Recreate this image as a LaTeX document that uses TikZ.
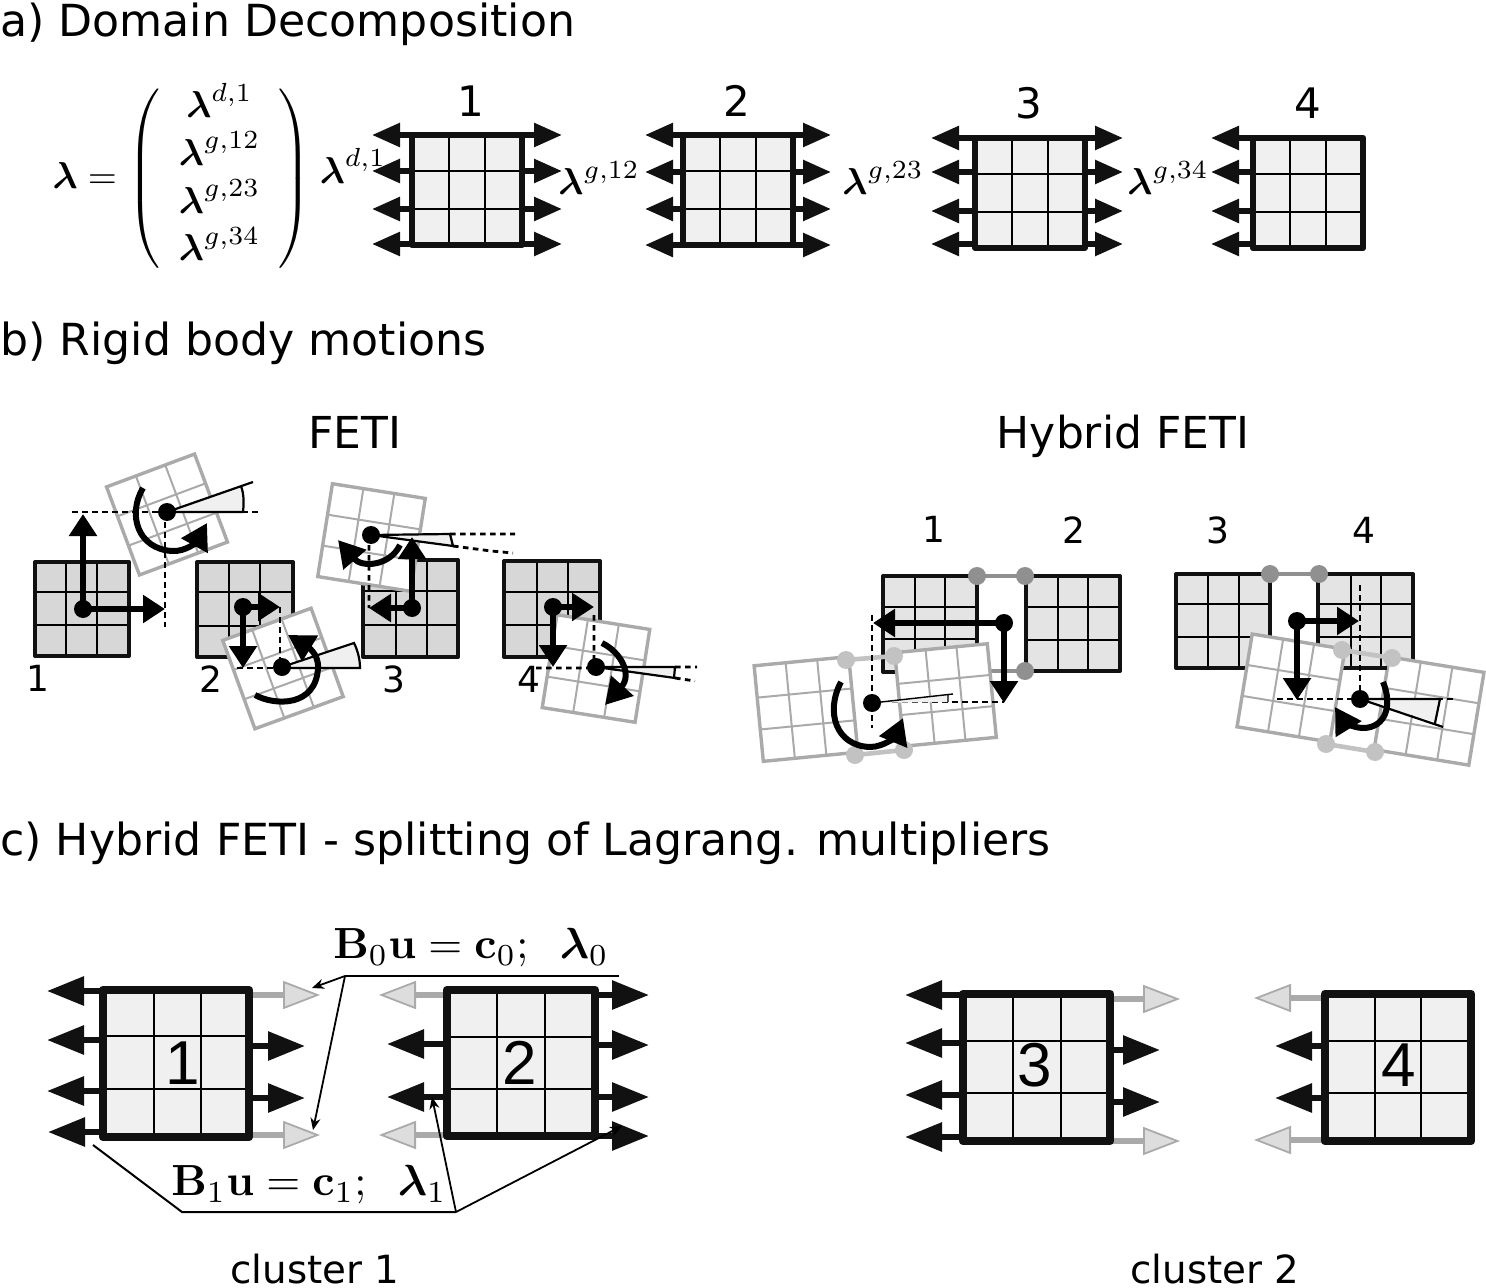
\documentclass[tikz,border=0pt]{standalone}
\usepackage{amsmath,amssymb}
\usepackage[no-math]{fontspec}
\setmainfont{DejaVu Sans}
\newfontfamily\narrowfont{Liberation Sans}
\usetikzlibrary{arrows.meta}
\definecolor{ink}{HTML}{111111}
\definecolor{midgray}{HTML}{AAAAAA}
\definecolor{palehead}{HTML}{DDDDDD}
\definecolor{lightcell}{HTML}{F0F0F0}
\definecolor{graycell}{HTML}{D7D7D7}
\definecolor{hybridcell}{HTML}{E4E4E4}
\definecolor{linkdark}{HTML}{909090}
\definecolor{linklight}{HTML}{C2C2C2}
\tikzset{
  x=0.5pt,y=-0.5pt,
  title/.style={anchor=base west,inner sep=0pt,font=\fontsize{22.1}{26}\selectfont},
  sublabel/.style={anchor=base,inner sep=0pt,font=\fontsize{22}{26}\selectfont},
  numA/.style={inner sep=0pt,font=\fontsize{21}{25}\selectfont},
  numB/.style={inner sep=0pt,font=\fontsize{18}{21}\selectfont},
  numC/.style={inner sep=0pt,font=\narrowfont\fontsize{31}{36}\selectfont},
  mathlab/.style={inner sep=0pt,scale=1.87},
  mathbig/.style={inner sep=0pt,scale=2.18},
  blk/.style={draw=ink,line width=2.8pt,-{Triangle[length=14pt,width=11.5pt,fill=ink]}},
  blkc/.style={draw=ink,line width=3pt,-{Triangle[length=18.5pt,width=14pt,fill=ink]}},
  gry/.style={draw=midgray,line width=3pt,-{Triangle[length=18.5pt,width=14pt,line width=.9pt,fill=palehead]}},
  blkB/.style={draw=black,line width=3pt,-{Triangle[length=11pt,width=13.5pt,fill=black]}},
  turn/.style={draw=black,line width=3pt,line cap=butt,-{Triangle[length=13pt,width=14.5pt,fill=black]}},
  dash line/.style={draw=black,line width=1.4pt,dash pattern=on 2.8pt off 2.2pt},
  dotnode/.style={circle,fill=black,inner sep=0pt,minimum size=9pt},
  thin call/.style={draw=black,line width=1pt},
  call/.style={draw=black,line width=.9pt,-{Stealth[length=6pt,width=5pt]}},
  wedgeline/.style={draw=black,line width=1.1pt},
  wedgefill/.style={fill=lightcell},
}
\newcommand\gridbox[9]{%
  \draw[fill=#9,draw=none] (#1,#2) rectangle (#3,#4);
  \foreach \gx in {#5}{\draw[black,line width=1.1pt] (\gx,#2) -- (\gx,#4);}
  \foreach \gy in {#6}{\draw[black,line width=1.1pt] (#1,\gy) -- (#3,\gy);}
  \draw[ink,line width=#7,line join=round] (#1,#2) rectangle (#3,#4);
}
\newcommand\rotbox[5]{%
  \begin{scope}[shift={(#1,#2)},rotate=#5]
    \draw[draw=midgray,fill=white,line width=1.7pt] ({-#3/2},{-#4/2}) rectangle ({#3/2},{#4/2});
    \draw[midgray,line width=1pt] ({-#3/6},{-#4/2}) -- ({-#3/6},{#4/2}) ({#3/6},{-#4/2}) -- ({#3/6},{#4/2})
      ({-#3/2},{-#4/6}) -- ({#3/2},{-#4/6}) ({-#3/2},{#4/6}) -- ({#3/2},{#4/6});
  \end{scope}
}
\newcommand\linkpair[5]{%
  \draw[#5,line width=2.3pt] (#1) -- (#3);
  \fill[#5] (#1) circle (9) (#3) circle (9);
}
\begin{document}
\begin{tikzpicture}
\useasboundingbox (0,0) rectangle (1486,1288);
% titles
\node[title] (ta) at (0,37) {a) Domain Decomposition};
\node[title] (tb) at (0,356) {b) Rigid body motions};
\node[title] (tc) at (0,855) {c) Hybrid FETI - splitting of Lagrang. multipliers};
% ---- a)
\node[mathlab,anchor=center] (lam) at (182,179) {$\boldsymbol{\lambda}=\left(\renewcommand{\arraystretch}{1.05}\begin{array}{c}\boldsymbol{\lambda}^{d,1}\\ \boldsymbol{\lambda}^{g,12}\\ \boldsymbol{\lambda}^{g,23}\\ \boldsymbol{\lambda}^{g,34}\end{array}\right)$};
\node[mathlab] (l1) at (353,166) {$\boldsymbol{\lambda}^{d,1}$};
\node[mathlab] (l2) at (599,178) {$\boldsymbol{\lambda}^{g,12}$};
\node[mathlab] (l3) at (883,178) {$\boldsymbol{\lambda}^{g,23}$};
\node[mathlab] (l4) at (1168,178) {$\boldsymbol{\lambda}^{g,34}$};
\node[numA] (n1) at (471,101) {1};
\node[numA] (n2) at (737,101) {2};
\node[numA] (n3) at (1029,103) {3};
\node[numA] (n4) at (1308,103) {4};
\foreach \y in {135,171,209,244}{\draw[blk] (412,\y) -- (372,\y); \draw[blk] (522,\y) -- (562,\y);}
\foreach \y in {135,172,209,245}{\draw[blk] (683,\y) -- (645,\y); \draw[blk] (793,\y) -- (831,\y);}
\foreach \y in {138,172,211,244}{\draw[blk] (975,\y) -- (931,\y); \draw[blk] (1085,\y) -- (1123,\y);\draw[blk] (1253,\y) -- (1211,\y);}
\gridbox{412}{135}{522}{245}{449,485}{171,209}{3.2pt}{}{lightcell}
\gridbox{683}{135}{793}{245}{720,756}{171,209}{3.2pt}{}{lightcell}
\gridbox{975}{138}{1085}{248}{1012,1048}{174,212}{2.7pt}{}{lightcell}
\gridbox{1253}{138}{1363}{248}{1290,1326}{174,212}{3.2pt}{}{lightcell}
% ---- b) headings
\node[sublabel] (feti) at (355,449) {FETI};
\node[sublabel] (hfeti) at (1123,449) {Hybrid FETI};
% b) left: fixed boxes
\gridbox{35}{562}{129}{656}{66,97}{592,625}{2pt}{}{graycell}
\gridbox{197}{562}{293}{657}{229,260}{592,626}{2pt}{}{graycell}
\gridbox{363}{560}{458}{657}{396,427}{591,625}{2pt}{}{graycell}
\gridbox{504}{561}{600}{657}{537,568}{592,625}{2pt}{}{graycell}
\node[numB] at (38,678) {1};
\node[numB] at (211,679) {2};
\node[numB] at (394,679) {3};
\node[numB] at (529,679) {4};
% subdomain 1
\rotbox{167}{514.5}{94}{94}{20.5}
\fill[wedgefill] (167,512) -- (241,486) .. controls (244,494) and (244,503) .. (243,512) -- cycle;
\draw[wedgeline] (167,512) -- (253,482) (167,512) -- (243,512) (241,486) .. controls (244,494) and (244,503) .. (243,512);
\draw[dash line] (72,512) -- (258,512) (165,512) -- (165,627);
\node[dotnode] (d1) at (83,609) {};
\coordinate (d1u) at (83,514); \coordinate (d1r) at (165,609);
\draw[blkB] (d1.center) -- (d1u);
\draw[blkB] (d1.center) -- (d1r);
\node[dotnode] (r1) at (167,512) {};
\draw[turn] (143,488) .. controls (127,515) and (138,549) .. (172,551) .. controls (186,552) and (197,541) .. (207,523);
% subdomain 2
\rotbox{283}{668.5}{94}{94}{20}
\fill[wedgefill] (282,667) -- (354,643) .. controls (358,651) and (360,660) .. (360,668) -- cycle;
\draw[wedgeline] (282,667) -- (354,643) -- (354,643) .. controls (358,651) and (360,660) .. (360,668) -- (282,668);
\draw[dash line] (237,668) -- (282,668) (280,607) -- (280,667);
\node[dotnode] (d2) at (243,607) {};
\coordinate (d2r) at (280,607); \coordinate (d2d) at (243,668);
\draw[blkB] (d2.center) -- (d2r);
\draw[blkB] (d2.center) -- (d2d);
\node[dotnode] (r2) at (282,667) {};
\draw[turn] (255,695) .. controls (275,706) and (316,707) .. (318,668) .. controls (319,653) and (306,646) .. (288,635);
% subdomain 3
\rotbox{371.5}{537.5}{94}{94}{-9}
\fill[wedgefill] (371,535) -- (450,534) -- (453,546) -- cycle;
\draw[wedgeline] (371,535) -- (450,534) -- (453,546) -- (371,535);
\draw[dash line] (450,534) -- (515,534) (453,546) -- (491,551) -- (513,553) (369,545) -- (369,608);
\node[dotnode] (d3) at (412,608) {};
\coordinate (d3u) at (412,537); \coordinate (d3l) at (369,608);
\draw[blkB] (d3.center) -- (d3u);
\draw[blkB] (d3.center) -- (d3l);
\node[dotnode] (r3) at (371,535) {};
\draw[turn] (400,545) .. controls (390,566) and (362,568) .. (338,540);
% subdomain 4
\rotbox{596}{668.5}{94}{94}{-9}
\fill[wedgefill] (596,667) -- (675,667) -- (674,678) -- cycle;
\draw[wedgeline] (596,667) -- (675,667) -- (674,678) (596,667) -- (675,678);
\draw[dash line] (536,668) -- (596,668) (594,615) -- (594,667) (675,667) -- (697,667) (675,678) -- (695,681);
\node[dotnode] (d4) at (553,607) {};
\coordinate (d4r) at (594,607); \coordinate (d4d) at (553,667);
\draw[blkB] (d4.center) -- (d4r);
\draw[blkB] (d4.center) -- (d4d);
\node[dotnode] (r4) at (596,667) {};
\draw[turn] (602,643) .. controls (622,653) and (632,675) .. (605,705);
% ---- b) right
\node[numB] at (934,529) {1};
\node[numB] at (1074,530) {2};
\node[numB] at (1218,530) {3};
\node[numB] at (1364,530) {4};
\gridbox{883}{576}{977}{672}{915,945}{607,639}{2pt}{}{hybridcell}
\gridbox{1026}{576}{1120}{671}{1058,1088}{607,640}{2pt}{}{hybridcell}
\coordinate (ha) at (977,576); \coordinate (hb) at (1025,576);
\coordinate (hc) at (977,671); \coordinate (hd) at (1025,671);
\linkpair{ha}{}{hb}{}{linkdark}
\linkpair{hc}{}{hd}{}{linkdark}
\rotbox{806}{709}{95}{96}{5.5}
\rotbox{945.5}{695}{93}{94}{5.5}
\coordinate (he) at (846,660); \coordinate (hf) at (894,656);
\coordinate (hg) at (855,755); \coordinate (hh) at (904,750);
\linkpair{he}{}{hf}{}{linklight}
\linkpair{hg}{}{hh}{}{linklight}
\draw[dash line] (872,615) -- (872,728) (872,702) -- (1004,702);
\fill[wedgefill] (872,703) -- (948,695) -- (948,702) -- cycle;
\draw[black,line width=.7pt] (872,703) -- (953,694) (948,695) -- (948,702);
\node[dotnode] (h1) at (1004,623) {};
\coordinate (h1l) at (873,623); \coordinate (h1d) at (1004,703);
\draw[blkB] (h1.center) -- (h1l);
\draw[blkB] (h1.center) -- (h1d);
\node[dotnode] (h2) at (872,703) {};
\draw[turn] (841,682) .. controls (825,712) and (836,746) .. (870,747) .. controls (885,747) and (896,735) .. (903,718);
%
\gridbox{1176}{574}{1270}{668}{1208,1239}{604,637}{2pt}{}{hybridcell}
\gridbox{1318}{574}{1413}{668}{1351,1381}{604,637}{2pt}{}{hybridcell}
\coordinate (ja) at (1270,574); \coordinate (jb) at (1319,574);
\linkpair{ja}{}{jb}{}{linkdark}
\rotbox{1291}{688}{94}{94}{-9.3}
\rotbox{1429}{711}{96}{94}{-9.3}
\coordinate (jc) at (1342,650); \coordinate (jd) at (1392,658);
\coordinate (je) at (1326,744); \coordinate (jf) at (1375,752);
\linkpair{jc}{}{jd}{}{linklight}
\linkpair{je}{}{jf}{}{linklight}
\draw[ink,line width=2pt] (1345,668) -- (1387,668);
\fill[wedgefill] (1360,699) -- (1440,699) -- (1435,722) -- cycle;
\draw[wedgeline] (1360,699) -- (1440,699) -- (1435,723) (1360,699) -- (1443,727);
\draw[dash line] (1277,699) -- (1455,699) (1360,585) -- (1360,699);
\node[dotnode] (j1) at (1297,621) {};
\coordinate (j1r) at (1359,621); \coordinate (j1d) at (1297,700);
\draw[blkB] (j1.center) -- (j1r);
\draw[blkB] (j1.center) -- (j1d);
\node[dotnode] (j2) at (1360,699) {};
\draw[turn] (1383,682) .. controls (1393,706) and (1385,728) .. (1363,728) .. controls (1352,728) and (1343,720) .. (1335,707);
% ---- c)
\foreach \y/\t in {991/47,1040/47,1091/47,1132/48}{\draw[blkc] (103,\y) -- (\t,\y);}
\foreach \y in {1046,1098}{\draw[blkc] (249,\y) -- (305,\y);}
\foreach \y in {995,1135}{\draw[gry] (249,\y) -- (320,\y); \draw[gry] (447,\y) -- (379,\y);}
\foreach \y in {1044,1097}{\draw[blkc] (447,\y) -- (387,\y);}
\foreach \y in {995,1045,1097,1136}{\draw[blkc] (595,\y) -- (649,\y);}
\foreach \y in {995,1043,1095,1137}{\draw[blkc] (963,\y) -- (905,\y);}
\foreach \y in {1050,1102}{\draw[blkc] (1110,\y) -- (1160,\y);}
\foreach \y in {999,1141}{\draw[gry] (1110,\y) -- (1180,\y);}
\foreach \y in {998,1140}{\draw[gry] (1325,\y) -- (1254,\y);}
\foreach \y in {1046,1098}{\draw[blkc] (1325,\y) -- (1275,\y);}
\gridbox{103}{990}{249}{1137}{154,201}{1036,1089}{4.4pt}{}{lightcell}
\gridbox{447}{990}{595}{1136}{497,545}{1037,1089}{4.4pt}{}{lightcell}
\gridbox{963}{994}{1110}{1141}{1013,1061}{1041,1093}{4.4pt}{}{lightcell}
\gridbox{1325}{994}{1471}{1141}{1375,1421}{1041,1093}{4.4pt}{}{lightcell}
\node[numC] (c1) at (183,1063) {1};
\node[numC] (c2) at (520,1063) {2};
\node[numC] (c3) at (1035,1065) {3};
\node[numC] (c4) at (1399,1065) {4};
\node[mathbig] (bzero) at (471,948) {$\mathbf{B}_0\mathbf{u}=\mathbf{c}_0;\;\;\boldsymbol{\lambda}_0$};
\node[mathbig] (bone) at (309,1185) {$\mathbf{B}_1\mathbf{u}=\mathbf{c}_1;\;\;\boldsymbol{\lambda}_1$};
\coordinate (z0) at (345,976); \coordinate (z1) at (619,976);
\coordinate (za) at (312,988); \coordinate (zb) at (313,1130);
\coordinate (y0) at (93,1145); \coordinate (y1) at (182,1212); \coordinate (y2) at (456,1212);
\coordinate (ya) at (432,1097); \coordinate (yb) at (622,1126);
\draw[thin call] (z0) -- (z1);
\draw[call] (z0) -- (za);
\draw[call] (z0) -- (zb);
\draw[thin call] (y0) -- (y1) -- (y2);
\draw[call] (y2) -- (ya);
\draw[call] (y2) -- (yb);
\node[anchor=base,inner sep=0pt,font=\fontsize{19.4}{23}\selectfont] (cl1) at (315,1283) {cluster 1};
\node[anchor=base,inner sep=0pt,font=\fontsize{19.4}{23}\selectfont] (cl2) at (1215,1283) {cluster 2};
\end{tikzpicture}
\end{document}
